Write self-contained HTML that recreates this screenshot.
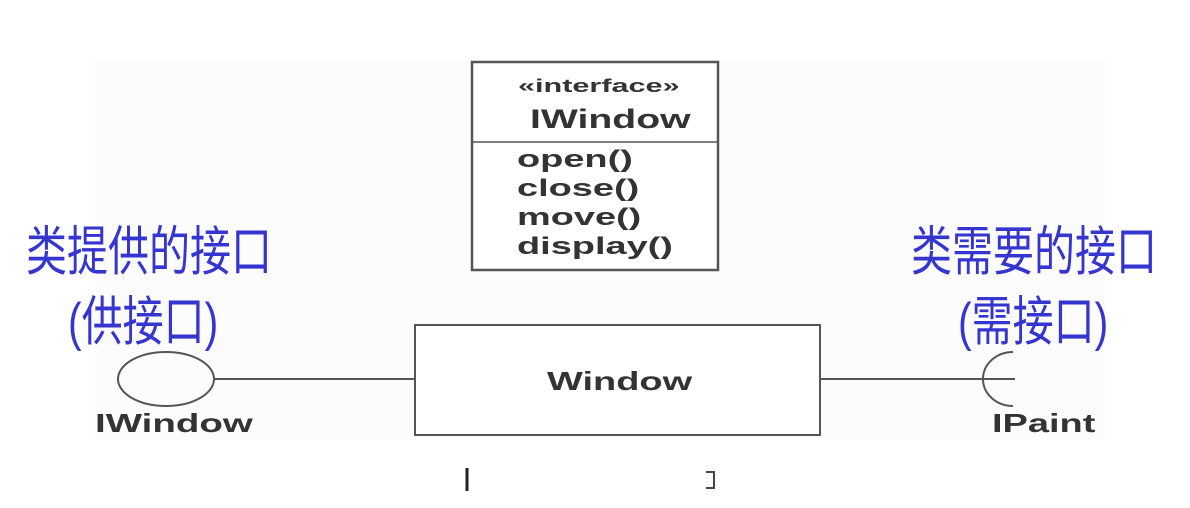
<!DOCTYPE html>
<html><head><meta charset="utf-8"><style>
body{margin:0;width:1190px;height:508px;background:#fff;overflow:hidden;position:relative;font-family:"Liberation Sans",sans-serif}
.t{position:absolute;white-space:nowrap;color:#333;transform-origin:0 0;font-weight:bold}
.cn{position:absolute;white-space:nowrap;color:#3535d0;font-family:"Liberation Sans","Noto Sans CJK SC",sans-serif;font-size:41px;transform:scaleY(1.3);transform-origin:0 0;line-height:41px}
</style></head><body>
<div style="position:absolute;left:95px;top:60px;width:1010px;height:380px;background:#fcfcfc"></div>
<svg width="1190" height="508" style="position:absolute;left:0;top:0">
<g stroke="#555" fill="none">
<rect x="472" y="62" width="246" height="208" stroke-width="2.5" fill="#fff"/>
<line x1="472" y1="142" x2="718" y2="142" stroke-width="1.5"/>
<rect x="415" y="325" width="405" height="110" stroke-width="2" fill="#fff"/>
<ellipse cx="166" cy="379" rx="48" ry="27" stroke-width="2"/>
<line x1="214" y1="379" x2="415" y2="379" stroke-width="2"/>
<line x1="820" y1="379" x2="1015" y2="379" stroke-width="2"/>
<path d="M1013 352 A30 27 0 0 0 1013 406" stroke-width="2"/>
<line x1="467" y1="468" x2="467" y2="491" stroke="#222" stroke-width="3"/>
<path d="M706 472 H714 V488 H706" stroke="#444" stroke-width="2"/>
</g>
</svg>
<div class="t" style="left:518px;top:76px;font-size:18px;transform:scaleX(1.7)">«interface»</div>
<div class="t" style="left:530px;top:104px;font-size:27px;transform:scaleX(1.45)">IWindow</div>
<div class="t" style="left:517px;top:145px;font-size:24px;line-height:29px;transform:scaleX(1.58)">open()<br>close()<br>move()<br>display()</div>
<div class="t" style="left:547px;top:366px;font-size:26px;transform:scaleX(1.46)">Window</div>
<div class="t" style="left:95px;top:408px;font-size:26px;transform:scaleX(1.48)">IWindow</div>
<div class="t" style="left:992px;top:408px;font-size:26px;transform:scaleX(1.46)">IPaint</div>
<div class="cn" style="left:26px;top:226px">类提供的接口</div>
<div class="cn" style="left:68px;top:296px">(供接口)</div>
<div class="cn" style="left:911px;top:226px">类需要的接口</div>
<div class="cn" style="left:958px;top:296px">(需接口)</div>
</body></html>
